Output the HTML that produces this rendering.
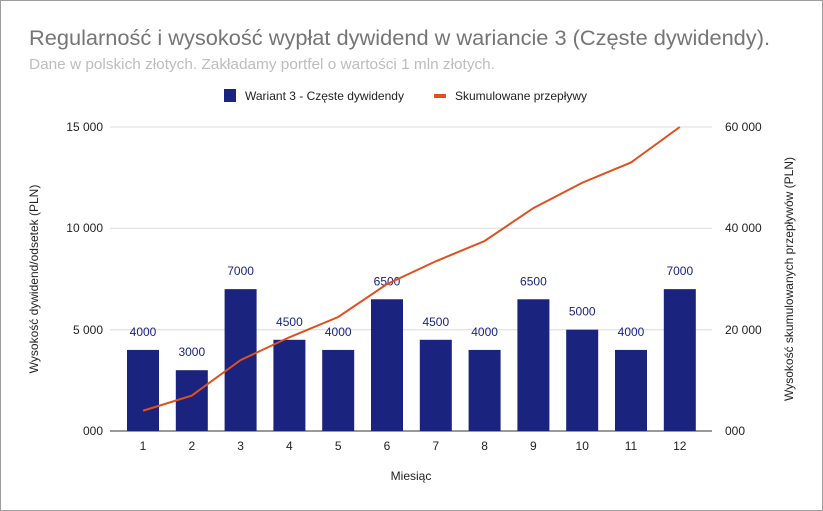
<!DOCTYPE html>
<html><head><meta charset="utf-8"><style>
body{margin:0;background:#fff;}
svg{display:block;font-family:"Liberation Sans",sans-serif;}
</style></head><body>
<svg width="823" height="511" viewBox="0 0 823 511">
<rect x="0.5" y="0.5" width="822" height="510" fill="#fff" stroke="#9e9e9e"/>
<text x="29" y="45" font-size="21" fill="#757575" textLength="741" lengthAdjust="spacingAndGlyphs">Regularność i wysokość wypłat dywidend w wariancie 3 (Częste dywidendy).</text>
<text x="29" y="69" font-size="14.5" fill="#bdbdbd" textLength="466" lengthAdjust="spacingAndGlyphs">Dane w polskich złotych. Zakładamy portfel o wartości 1 mln złotych.</text>
<rect x="224" y="89" width="12" height="13" fill="#1a237e"/>
<text x="245" y="100" font-size="12" fill="#222">Wariant 3 - Częste dywidendy</text>
<rect x="434" y="94" width="12" height="4" fill="#e0501e"/>
<text x="455" y="100" font-size="12" fill="#222">Skumulowane przepływy</text>
<g stroke="#dcdcdc" stroke-width="1">
<line x1="110" y1="127" x2="712" y2="127"/><line x1="110" y1="228.3" x2="712" y2="228.3"/><line x1="110" y1="329.7" x2="712" y2="329.7"/>
</g>
<line x1="110" y1="431" x2="712" y2="431" stroke="#333"/>
<g font-size="12" fill="#222" text-anchor="end">
<text x="103" y="131">15 000</text><text x="103" y="232">10 000</text><text x="103" y="334">5 000</text><text x="103" y="435">000</text>
</g>
<g font-size="12" fill="#222" text-anchor="start">
<text x="725" y="131">60 000</text><text x="725" y="232">40 000</text><text x="725" y="334">20 000</text><text x="725" y="435">000</text>
</g>
<text transform="translate(38,279) rotate(-90)" font-size="12" fill="#222" text-anchor="middle">Wysokość dywidend/odsetek (PLN)</text>
<text transform="translate(793,279) rotate(-90)" font-size="12" fill="#222" text-anchor="middle">Wysokość skumulowanych przepływów (PLN)</text>
<text x="411" y="480" font-size="12" fill="#222" text-anchor="middle">Miesiąc</text>
<g fill="#1a237e" id="bars"></g>
<g id="labs" font-size="12" text-anchor="middle"></g>
<polyline id="ln" fill="none" stroke="#e0501e" stroke-width="2"/>
</svg>
<script>
var v=[4000,3000,7000,4500,4000,6500,4500,4000,6500,5000,4000,7000];
var b=document.getElementById('bars'),l=document.getElementById('labs'),ns='http://www.w3.org/2000/svg';
var cum=0,pts=[];
for(var i=0;i<12;i++){
 var cx=143+i*48.8,h=v[i]/15000*304,y=431-h;
 var r=document.createElementNS(ns,'rect');r.setAttribute('x',cx-16);r.setAttribute('y',y);r.setAttribute('width',32);r.setAttribute('height',h);b.appendChild(r);
 var t=document.createElementNS(ns,'text');t.setAttribute('x',cx);t.setAttribute('y',y-14);t.setAttribute('fill','#1a237e');t.textContent=v[i];l.appendChild(t);
 var t2=document.createElementNS(ns,'text');t2.setAttribute('x',cx);t2.setAttribute('y',450);t2.setAttribute('fill','#222');t2.textContent=i+1;l.appendChild(t2);
 cum+=v[i];pts.push(cx+','+(431-cum/60000*304));
}
document.getElementById('ln').setAttribute('points',pts.join(' '));
</script>
</body></html>
